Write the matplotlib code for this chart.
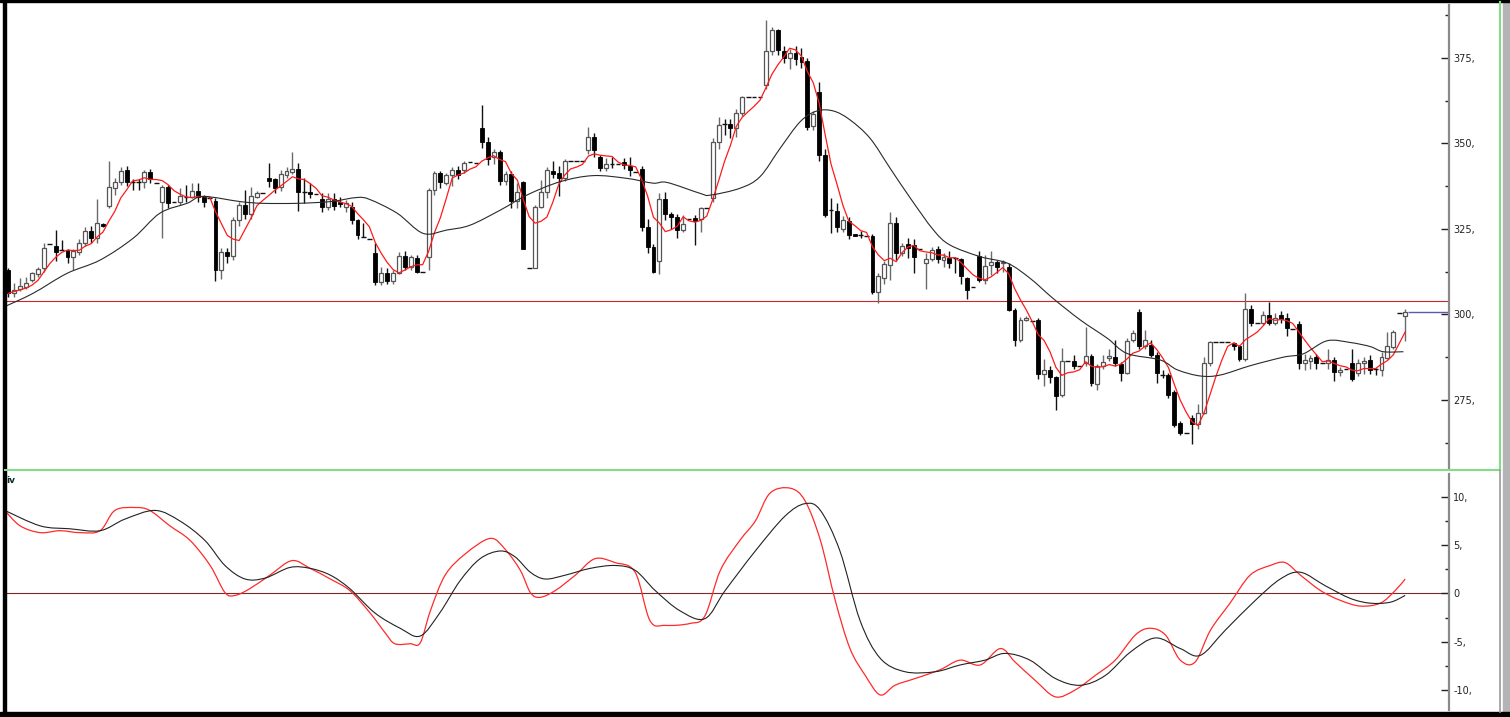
import numpy as np
import pandas as pd
import matplotlib
matplotlib.use("Agg")
import matplotlib.pyplot as plt
from matplotlib.patches import Rectangle, PathPatch
from matplotlib.path import Path
from matplotlib.lines import Line2D
from matplotlib.ticker import FixedLocator, FuncFormatter

# daily candles (open / high / low / close)
opens = [
    313.0, 306.2, 307.4, 308.1, 310.1, 311.7, 313.5, 320.5, 320.0, 318.9,
    318.9, 316.9, 318.4, 320.8, 324.4, 322.3, 326.5, 331.7, 336.9, 338.6,
    342.2, 338.8, 338.7, 338.6, 341.8, 338.5, 333.0, 337.4, 333.0, 333.0,
    334.4, 334.4, 336.1, 334.4, 334.0, 333.3, 313.0, 318.4, 317.1, 327.6,
    332.0, 329.4, 334.4, 335.4, 339.8, 339.5, 337.4, 340.8, 341.7, 342.4,
    335.9, 335.9, 335.1, 333.9, 331.5, 333.9, 332.8, 331.5, 331.5, 327.6,
    322.7, 322.0, 317.9, 309.6, 312.2, 309.9, 312.2, 317.1, 313.8, 316.4,
    312.5, 316.9, 336.4, 341.3, 338.5, 340.8, 342.2, 342.2, 344.5, 344.2,
    354.4, 350.5, 346.0, 347.4, 339.0, 341.0, 333.2, 338.6, 313.7, 313.5,
    331.5, 335.7, 341.9, 341.3, 340.0, 344.9, 344.9, 344.9, 348.1, 352.0,
    346.1, 342.9, 344.1, 344.0, 344.5, 343.5, 341.8, 342.5, 325.7, 319.8,
    315.6, 333.8, 329.4, 328.6, 324.8, 328.0, 328.1, 327.9, 331.0, 334.2,
    350.5, 355.8, 355.8, 354.6, 359.0, 363.6, 363.6, 363.6, 367.1, 377.1,
    383.2, 377.0, 375.1, 376.4, 375.2, 374.1, 355.2, 365.2, 346.6, 330.6,
    330.2, 325.1, 327.3, 323.4, 323.2, 323.0, 323.0, 306.7, 310.7, 314.5,
    326.7, 318.1, 320.5, 320.3, 319.0, 315.0, 316.1, 319.1, 315.9, 316.6,
    316.4, 316.1, 310.6, 308.1, 317.1, 310.1, 314.5, 315.4, 315.0, 313.8,
    301.3, 292.6, 298.5, 298.1, 298.4, 282.6, 283.8, 281.8, 276.5, 286.5,
    286.5, 285.0, 285.7, 287.9, 279.7, 284.8, 287.2, 287.6, 285.5, 283.0,
    292.4, 300.8, 290.8, 291.1, 288.2, 282.3, 282.3, 277.2, 268.2, 265.3,
    269.6, 268.0, 271.3, 285.7, 291.9, 291.9, 291.9, 291.6, 290.8, 286.9,
    301.5, 297.6, 297.6, 299.9, 297.6, 299.9, 298.9, 295.7, 297.2, 285.9,
    286.4, 287.5, 285.7, 285.7, 286.7, 283.3, 284.0, 285.9, 282.8, 285.7,
    286.7, 284.0, 283.8, 287.2, 290.6, 300.3, 299.4]
highs = [
    313.5, 309.3, 310.6, 311.0, 312.5, 314.0, 320.8, 320.5, 324.7, 321.8,
    319.2, 319.2, 322.2, 325.5, 326.0, 333.9, 326.6, 345.0, 340.0, 343.2,
    343.5, 339.5, 339.5, 342.3, 342.6, 338.5, 338.0, 338.0, 333.0, 337.0,
    337.9, 338.3, 338.3, 335.0, 334.0, 334.0, 319.5, 319.5, 328.5, 333.0,
    336.4, 337.4, 336.0, 335.4, 344.2, 340.0, 342.3, 343.0, 347.5, 344.3,
    339.8, 338.5, 335.1, 335.5, 335.5, 335.4, 334.4, 333.4, 333.0, 328.0,
    326.6, 322.0, 321.0, 313.8, 313.5, 313.0, 318.4, 318.5, 317.5, 317.5,
    312.5, 337.0, 342.0, 342.0, 341.5, 343.0, 343.5, 345.0, 344.5, 344.2,
    361.3, 352.0, 348.5, 348.0, 342.0, 342.0, 338.5, 339.0, 313.7, 332.0,
    339.4, 343.0, 345.0, 343.5, 345.5, 344.9, 344.9, 344.9, 354.8, 353.0,
    346.7, 345.7, 346.1, 344.0, 345.7, 346.0, 341.8, 343.5, 328.0, 320.5,
    335.5, 335.8, 330.0, 329.4, 329.0, 328.0, 329.0, 331.5, 331.0, 351.5,
    357.7, 357.3, 357.3, 360.0, 364.0, 363.6, 363.6, 363.6, 386.0, 384.0,
    383.5, 378.5, 377.5, 378.5, 378.0, 375.0, 359.5, 368.0, 348.5, 334.0,
    332.5, 328.8, 328.5, 323.6, 324.3, 323.0, 323.5, 312.0, 315.5, 330.0,
    328.5, 321.0, 322.5, 322.0, 319.0, 318.0, 319.6, 320.0, 318.0, 318.5,
    316.4, 316.5, 311.0, 308.1, 318.7, 317.5, 318.5, 316.0, 316.0, 315.0,
    302.0, 299.2, 299.5, 298.1, 299.0, 287.0, 285.0, 282.0, 290.3, 286.5,
    288.0, 285.0, 296.4, 288.5, 285.5, 288.0, 290.0, 292.6, 286.0, 293.0,
    295.5, 301.5, 295.5, 292.5, 289.0, 283.8, 283.0, 278.0, 268.8, 265.3,
    270.5, 273.8, 287.7, 292.3, 291.9, 291.9, 291.9, 292.0, 291.0, 306.4,
    302.8, 297.6, 301.0, 303.5, 300.5, 301.0, 300.5, 295.7, 298.0, 288.5,
    288.0, 288.5, 285.7, 290.0, 287.5, 284.5, 284.0, 290.0, 287.0, 287.5,
    288.0, 284.2, 289.0, 294.9, 295.5, 300.3, 301.5]
lows = [
    305.0, 305.2, 306.8, 307.5, 309.5, 311.0, 312.5, 320.5, 315.5, 318.9,
    315.0, 313.0, 317.5, 320.0, 321.0, 321.0, 325.6, 331.0, 335.0, 338.0,
    337.5, 336.5, 336.5, 337.0, 338.5, 338.5, 322.3, 331.0, 333.0, 332.0,
    333.0, 334.0, 333.0, 331.5, 334.0, 309.8, 310.5, 315.0, 316.0, 326.0,
    328.0, 328.0, 334.0, 335.4, 337.4, 335.5, 336.0, 340.0, 341.0, 330.2,
    332.5, 334.0, 335.1, 330.0, 330.5, 330.6, 331.5, 330.0, 326.5, 322.0,
    322.7, 322.0, 308.6, 308.6, 309.0, 309.0, 311.8, 313.0, 313.0, 312.0,
    312.5, 313.0, 335.0, 337.0, 338.0, 337.5, 339.5, 341.5, 344.5, 344.2,
    348.6, 343.6, 344.0, 338.0, 338.0, 331.0, 331.0, 319.0, 313.7, 313.5,
    331.0, 334.0, 340.0, 334.6, 339.0, 344.9, 344.9, 344.9, 347.0, 346.0,
    342.0, 342.0, 342.7, 344.0, 342.5, 340.5, 341.8, 324.5, 318.0, 312.0,
    311.8, 327.6, 325.0, 322.5, 324.0, 328.0, 320.3, 324.2, 331.0, 333.0,
    348.5, 352.5, 351.5, 352.0, 358.0, 363.6, 363.6, 363.6, 366.0, 376.0,
    376.0, 373.5, 371.8, 373.0, 372.0, 354.0, 354.0, 345.0, 328.5, 323.7,
    324.0, 324.0, 322.0, 322.8, 322.4, 323.0, 306.0, 303.3, 309.0, 310.0,
    316.0, 317.0, 316.5, 312.0, 319.0, 307.4, 315.5, 315.0, 313.8, 313.5,
    312.0, 309.0, 304.5, 308.1, 309.5, 309.0, 311.6, 312.0, 312.4, 301.0,
    290.7, 292.0, 298.0, 298.1, 281.0, 279.0, 280.0, 272.0, 276.0, 286.5,
    284.0, 285.0, 285.0, 279.0, 278.0, 284.0, 286.5, 285.0, 280.5, 282.5,
    292.0, 290.0, 290.0, 287.5, 280.0, 281.3, 275.5, 267.0, 264.7, 265.3,
    262.0, 266.5, 271.0, 285.0, 291.9, 291.9, 291.9, 289.5, 286.5, 286.5,
    296.5, 297.6, 297.0, 297.0, 297.0, 297.5, 293.6, 295.7, 284.0, 283.7,
    284.0, 284.0, 285.7, 284.0, 280.5, 282.0, 284.0, 280.5, 282.0, 282.5,
    282.5, 282.3, 282.0, 287.0, 290.0, 300.3, 292.3]
closes = [
    306.2, 307.2, 308.3, 309.1, 312.0, 313.2, 319.5, 320.5, 318.4, 318.9,
    316.9, 318.7, 321.0, 324.4, 322.5, 326.7, 325.9, 337.2, 338.6, 342.0,
    338.6, 338.8, 338.7, 341.8, 339.5, 338.5, 337.2, 332.7, 333.0, 334.6,
    334.4, 336.1, 334.4, 333.0, 334.0, 313.0, 318.4, 317.1, 327.6, 332.0,
    329.4, 334.6, 335.4, 335.4, 339.1, 336.9, 341.0, 342.0, 342.4, 335.9,
    335.9, 335.1, 335.1, 331.5, 333.9, 331.8, 332.2, 332.7, 327.6, 323.2,
    322.7, 322.0, 309.6, 312.0, 309.9, 312.2, 317.1, 313.8, 316.9, 312.5,
    312.5, 336.4, 341.4, 338.8, 340.8, 342.2, 340.8, 344.2, 344.5, 344.2,
    350.5, 345.5, 347.4, 339.0, 341.0, 333.2, 335.9, 319.2, 313.7, 331.5,
    335.9, 342.2, 341.0, 339.8, 344.9, 344.9, 344.9, 344.9, 352.0, 348.1,
    342.9, 343.9, 344.1, 344.0, 343.7, 342.2, 341.8, 325.7, 319.8, 312.5,
    333.8, 329.3, 328.5, 324.7, 326.4, 328.0, 327.4, 331.0, 331.0, 350.5,
    355.4, 355.8, 354.6, 359.0, 363.6, 363.6, 363.6, 363.6, 377.1, 383.2,
    377.3, 375.1, 376.6, 374.7, 373.9, 354.9, 358.5, 346.6, 329.1, 330.6,
    325.7, 327.6, 323.2, 322.9, 323.2, 323.0, 306.7, 311.1, 314.7, 326.7,
    317.9, 320.0, 319.4, 316.9, 319.0, 316.1, 318.9, 316.1, 316.7, 315.0,
    316.4, 311.1, 307.2, 308.1, 310.1, 314.2, 315.2, 313.8, 315.2, 301.3,
    292.6, 298.4, 298.9, 298.1, 282.6, 283.8, 281.8, 276.2, 286.5, 286.5,
    285.0, 285.0, 287.9, 279.9, 284.8, 286.2, 287.9, 285.7, 283.0, 292.1,
    294.7, 290.8, 292.6, 288.2, 282.8, 282.3, 276.5, 267.7, 265.3, 265.3,
    268.0, 271.3, 285.7, 291.9, 291.9, 291.9, 291.9, 290.8, 286.9, 301.5,
    297.4, 297.6, 299.9, 297.6, 298.9, 298.6, 296.0, 295.7, 285.7, 286.7,
    287.2, 285.7, 285.7, 286.7, 283.1, 283.8, 284.0, 281.0, 285.7, 286.4,
    283.8, 284.0, 287.5, 290.8, 295.0, 300.3, 300.8]

# slow moving average (black line): bar position / value
slow_ma_pos = [-0.6, 4.2, 9.9, 15.5, 21.1, 25.6, 30.2, 32.9, 39.2, 43.0,
               48.8, 54.4, 58.9, 61.1, 65.7, 70.1, 74.1, 78.0, 83.1, 87.6,
               93.2, 98.8, 104.5, 108.9, 111.3, 116.9, 118.6, 123.6, 127.0, 130.4,
               133.8, 136.6, 139.4, 142.2, 145.6, 149.0, 152.4, 156.3, 159.1, 164.2,
               168.8, 172.6, 176.5, 181.1, 185.7, 189.0, 194.6, 197.5, 201.4, 204.8,
               209.8, 215.4, 218.8, 222.8, 226.7, 230.1, 232.3, 235.7]
slow_ma_val = [302.3, 306.2, 312.0, 315.9, 322.3, 329.6, 332.5, 334.5, 333.0, 332.5,
               332.5, 333.0, 334.2, 333.6, 329.6, 323.7, 324.7, 326.1, 330.5, 334.9,
               338.8, 340.6, 339.8, 338.4, 338.6, 335.4, 334.9, 336.9, 340.3, 348.6,
               356.4, 359.5, 359.5, 356.9, 351.5, 342.7, 334.0, 324.7, 320.3, 316.9,
               315.0, 310.6, 304.7, 298.4, 293.0, 288.6, 286.7, 283.8, 282.0, 282.3,
               285.0, 287.5, 288.5, 292.3, 291.8, 290.6, 289.1, 289.1]

level_line = 304.0

# oscillator panel
osc_fast_pos = [-0.6, 2.0, 5.4, 8.7, 12.1, 15.5, 18.0, 21.4, 23.9, 27.3,
                30.7, 34.1, 36.6, 38.3, 40.8, 44.2, 47.9, 51.0, 54.4, 57.7,
                61.1, 63.7, 65.3, 67.9, 69.6, 71.3, 73.8, 77.2, 81.4, 83.9,
                86.5, 88.2, 89.8, 92.4, 95.8, 99.1, 102.5, 105.9, 108.4, 111.0,
                115.2, 117.7, 120.3, 123.6, 126.2, 128.7, 132.1, 134.6, 137.2, 139.7,
                142.2, 144.8, 147.3, 149.8, 153.2, 157.4, 160.8, 164.2, 167.6, 170.1,
                173.5, 176.9, 180.2, 183.6, 187.0, 190.4, 192.9, 195.5, 198.0, 200.5,
                203.1, 206.4, 209.8, 213.2, 215.7, 218.3, 221.7, 225.0, 228.4, 231.8,
                234.3, 236.0]
osc_fast_val = [8.6, 7.0, 6.3, 6.5, 6.3, 6.5, 8.6, 8.9, 8.6, 7.0,
                5.5, 2.9, 0.1, -0.2, 0.5, 1.9, 3.4, 2.6, 1.5, 0.3,
                -2.0, -4.1, -5.2, -5.2, -5.1, -1.8, 1.9, 4.1, 5.7, 4.6,
                2.4, 0.1, -0.4, 0.3, 1.9, 3.6, 3.2, 2.2, -2.8, -3.3,
                -3.1, -2.3, 2.4, 5.5, 7.5, 10.4, 10.9, 9.6, 5.5, -0.7,
                -5.7, -8.5, -10.5, -9.5, -8.8, -7.9, -6.9, -7.4, -5.7, -7.1,
                -9.0, -10.7, -10.0, -8.5, -6.9, -4.3, -3.6, -4.3, -6.9, -7.1,
                -3.8, -1.0, 1.9, 2.9, 3.2, 1.9, 0.3, -0.7, -1.3, -1.0,
                0.3, 1.5]
osc_slow_pos = [-0.6, 5.4, 10.4, 15.5, 19.7, 24.8, 29.0, 33.2, 36.6, 40.0,
                43.4, 47.6, 51.0, 54.4, 57.7, 61.9, 66.2, 69.6, 72.9, 76.3,
                79.7, 83.1, 85.6, 88.2, 90.7, 94.1, 98.3, 102.5, 105.9, 109.3,
                113.5, 117.7, 121.1, 126.2, 131.2, 134.6, 137.2, 140.5, 143.9, 147.3,
                151.5, 156.6, 160.8, 165.0, 168.4, 172.6, 176.9, 181.1, 185.3, 189.5,
                193.8, 198.0, 201.4, 205.6, 210.7, 214.9, 218.3, 222.5, 226.7, 230.1,
                233.5, 236.0]
osc_slow_val = [8.6, 7.0, 6.7, 6.5, 7.7, 8.6, 7.5, 5.5, 2.9, 1.5,
                1.6, 2.7, 2.6, 1.9, 0.5, -2.0, -3.6, -4.4, -2.0, 1.3,
                3.6, 4.4, 3.8, 2.2, 1.5, 1.9, 2.6, 2.9, 2.4, 0.3,
                -1.8, -2.6, 0.3, 4.4, 8.0, 9.3, 8.6, 4.4, -2.8, -6.7,
                -8.1, -8.1, -7.4, -6.9, -6.2, -6.9, -8.8, -9.5, -8.5, -6.1,
                -4.6, -5.7, -6.4, -3.8, -0.7, 1.5, 2.2, 0.8, -0.5, -1.0,
                -0.9, -0.2]

price_ticks = [275, 300, 325, 350, 375]
osc_ticks = [-10, -5, 0, 5, 10]

W, H = 1510, 717


def box(x0, y0, x1, y1):
    # pixel box (top-left origin) -> figure fraction rect
    return [x0 / W, 1 - y1 / H, (x1 - x0) / W, (y1 - y0) / H]


def smooth_line(ax, xs, ys, **kw):
    # draw the polyline through the read points as a rounded (catmull-rom) curve
    p = np.column_stack([xs, ys]).astype(float)
    verts = [tuple(p[0])]
    codes = [Path.MOVETO]
    for i in range(len(p) - 1):
        p0 = p[i - 1] if i > 0 else p[i]
        p1, p2 = p[i], p[i + 1]
        p3 = p[i + 2] if i + 2 < len(p) else p[i + 1]
        c1 = p1 + (p2 - p0) / 6.0
        c2 = p2 - (p3 - p1) / 6.0
        verts += [tuple(c1), tuple(c2), tuple(p2)]
        codes += [Path.CURVE4] * 3
    ax.add_patch(PathPatch(Path(verts, codes), fill=False, **kw))


def style_axis(ax, majors, step):
    for s in ["top", "left", "bottom"]:
        ax.spines[s].set_visible(False)
    ax.spines["right"].set_color("#8a8a8a")
    ax.spines["right"].set_linewidth(1.6)
    ax.set_xticks([])
    ax.yaxis.tick_right()
    ax.yaxis.set_major_locator(FixedLocator(majors))
    minors = [m + step / 2 for m in [majors[0] - step] + majors]
    ax.yaxis.set_minor_locator(FixedLocator(minors))
    ax.yaxis.set_major_formatter(FuncFormatter(lambda v, p: "0" if v == 0 else f"{int(v)},"))
    ax.tick_params(axis="y", which="major", direction="in", length=6, width=1,
                   color="#222222", labelsize=7, labelcolor="#222222", pad=3)
    ax.tick_params(axis="y", which="minor", direction="in", length=3, width=1,
                   color="#222222")


fig = plt.figure(figsize=(W / 100, H / 100), dpi=100, facecolor="white")

# price panel
ax1 = fig.add_axes(box(5, 5, 1449, 469))
n = len(closes)
x = np.arange(n)
o = np.array(opens)
c = np.array(closes)
hi = np.array(highs)
lo = np.array(lows)

up = c > o
down = c < o
flat = ~(up | down)

ax1.vlines(x[up], lo[up], hi[up], color="#6a6a6a", lw=1, zorder=2)
ax1.vlines(x[~up], lo[~up], hi[~up], color="#111111", lw=1, zorder=2)
ax1.bar(x[up], (c - o)[up], bottom=o[up], width=0.66, color="white",
        edgecolor="#555555", linewidth=0.9, zorder=3)
ax1.bar(x[down], (o - c)[down], bottom=c[down], width=0.66, color="black",
        edgecolor="black", linewidth=0.6, zorder=3)
ax1.hlines(c[flat], x[flat] - 0.4, x[flat] + 0.4, color="#111111", lw=1, zorder=3)

fast_ma = pd.Series(closes).rolling(5, min_periods=1).mean()
ax1.plot(x, fast_ma, color="#ff1a1a", lw=0.9, zorder=4)
smooth_line(ax1, slow_ma_pos, slow_ma_val, edgecolor="#2a2a2a", lw=0.8, zorder=4)

ax1.axhline(level_line, color="#c82828", lw=0.8, zorder=1)
ax1.hlines(closes[-1], n - 0.6, 250, color="#5a5ab4", lw=1, zorder=1)

ax1.set_xlim(-0.56, 243.4)
ax1.set_ylim(254.8, 390.5)
style_axis(ax1, price_ticks, 25)

# oscillator panel
ax2 = fig.add_axes(box(5, 474, 1449, 710))
ax2.axhline(0, color="#7a2a2a", lw=0.8, zorder=1)
smooth_line(ax2, osc_fast_pos, osc_fast_val, edgecolor="#ff2a2a", lw=0.9, zorder=3)
smooth_line(ax2, osc_slow_pos, osc_slow_val, edgecolor="#222222", lw=0.8, zorder=3)
ax2.set_xlim(-0.56, 243.4)
ax2.set_ylim(-12.06, 12.37)
style_axis(ax2, osc_ticks, 5)
fig.text(6 / W, 1 - 483 / H, "iv", fontsize=6.5, fontweight="bold", color="#0a2a2a")

# window frame
fig.add_artist(Rectangle((3 / W, 0), 3 / W, 1, transform=fig.transFigure,
                         color="black", zorder=10))
fig.add_artist(Rectangle((0, 1 - 2 / H), 1, 2 / H, transform=fig.transFigure,
                         color="black", zorder=10))
fig.add_artist(Rectangle((0, 0), 1, 5 / H, transform=fig.transFigure,
                         color="black", zorder=10))
fig.add_artist(Rectangle((1503 / W, 5 / H), 7 / W, 1, transform=fig.transFigure,
                         color="#b4b4b4", zorder=9))
fig.add_artist(Line2D([5 / W, 1500 / W], [1 - 470 / H, 1 - 470 / H],
                      transform=fig.transFigure, color="#86dc86", lw=1.5, zorder=10))
fig.add_artist(Line2D([1500 / W, 1500 / W], [1 - 470 / H, 1 - 2 / H],
                      transform=fig.transFigure, color="#86dc86", lw=1.5, zorder=10))
fig.add_artist(Line2D([1500 / W, 1500 / W], [5 / H, 1 - 470 / H],
                      transform=fig.transFigure, color="#9a9a9a", lw=1.2, zorder=10))

fig.savefig("out.png", dpi=100, facecolor="white")
